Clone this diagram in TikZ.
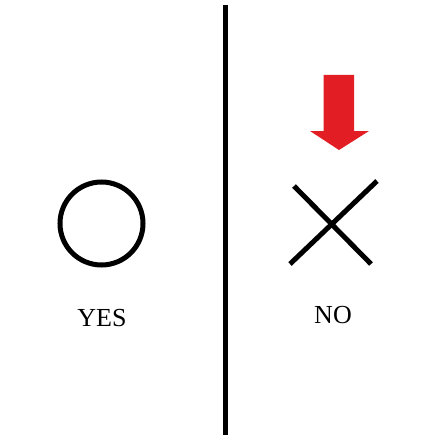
\documentclass[tikz,border=0pt]{standalone}
\usepackage{fontspec}
\setmainfont{Liberation Serif}
\definecolor{arrowred}{RGB}{226,29,36}
\begin{document}
\begin{tikzpicture}[x=1pt,y=-1pt,
  glyph/.style={line width=5pt,black},
  lbl/.style={font=\fontsize{26}{30}\selectfont,inner sep=0pt,anchor=base}]
\useasboundingbox (0,0) rectangle (441,441);
\fill[white] (0,0) rectangle (441,441);
\coordinate (divtop) at (225.7,5);
\coordinate (divbot) at (225.7,435);
\draw[line width=5.5pt] (divtop) -- (divbot);
\node[glyph,draw,circle,minimum size=83pt,inner sep=0pt] (yescircle) at (101.5,223.5) {};
\coordinate (x1a) at (294,186);
\coordinate (x1b) at (371,264);
\coordinate (x2a) at (377,181);
\coordinate (x2b) at (290,264);
\draw[glyph] (x1a) -- (x1b);
\draw[glyph] (x2a) -- (x2b);
\fill[arrowred] (323.5,75) -- (354,75) -- (354,131) -- (369,131) -- (339,150) -- (310,131) -- (323.5,131) -- cycle;
\node[lbl] (yes) at (102,326) {YES};
\node[lbl] (no) at (333,323) {NO};
\end{tikzpicture}
\end{document}
